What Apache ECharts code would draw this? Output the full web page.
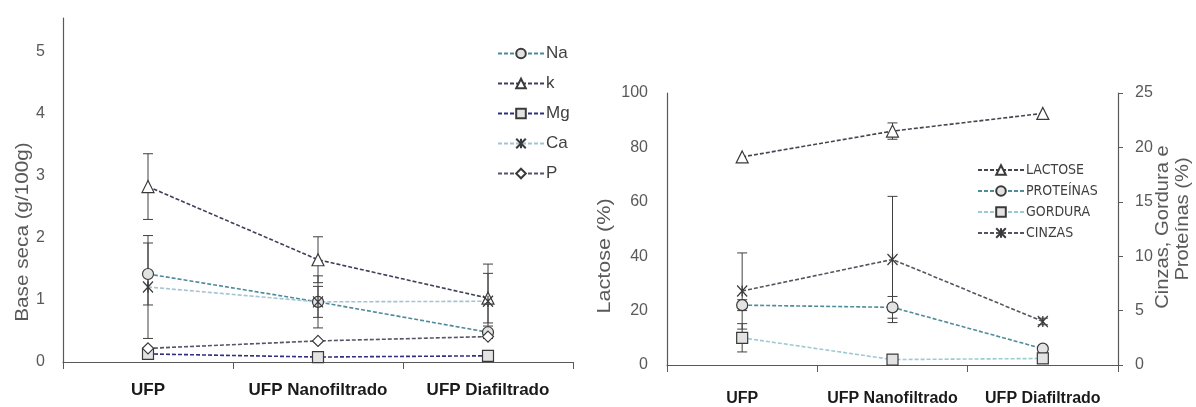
<!DOCTYPE html>
<html>
<head>
<meta charset="utf-8">
<script src="https://cdn.jsdelivr.net/npm/echarts@6/dist/echarts.min.js"></script>
<style>
html,body{margin:0;padding:0;background:#fff;}
#echartsDiv{width:1196px;height:407px;}
</style>
</head>
<body>
<div id="echartsDiv"></div>
<script>
// categorias (comuns aos dois gráficos)
var categorias=['UFP','UFP Nanofiltrado','UFP Diafiltrado'];

// gráfico da esquerda: minerais, base seca (g/100g)
var na=[1.42,0.97,0.48];
var naErr=[0.5,0.25,0.1];
var k=[2.83,1.65,1.03];
var kErr=[0.53,0.37,0.4];
var mg=[0.13,0.08,0.1];
var mgErr=[0,0,0];
var ca=[1.21,0.97,0.98];
var caErr=[0.83,0.42,0.6];
var p=[0.22,0.34,0.41];
var pErr=[0,0,0];
var ticksEsq=[0,1,2,3,4,5];

// gráfico da direita: lactose (eixo esq.) e cinzas/gordura/proteínas (eixo dir.)
var lactose=[76.5,86,92.5];
var lactoseErr=[0,3,0];
var proteinas=[5.5,5.3,1.5];
var proteinasErr=[0.5,1.0,0.2];
var gordura=[2.5,0.5,0.6];
var gorduraErr=[1.3,0.2,0.2];
var cinzas=[6.8,9.7,4.0];
var cinzasErr=[3.5,5.8,0.3];
var ticksLactose=[0,20,40,60,80,100];
var ticksCinzas=[0,5,10,15,20,25];

var cinzaEixo='#595959';
var contorno='#3a3a3a';
var asterisco='path://M0,0L10,10M10,0L0,10M5,0L5,10';

//monta os dados das barras de erro [indice, baixo, alto]
function barrasErro(vals,errs){
	var out=[];
	for(var i=0;i<vals.length;i++){
		if(errs[i]>0){
			out.push([i,vals[i]-errs[i],vals[i]+errs[i]]);
		}
	}
	return out;
}

function desenhaErro(params,api){
	var a=api.coord([api.value(0),api.value(1)]);
	var b=api.coord([api.value(0),api.value(2)]);
	var w=5;
	var st={stroke:'#404040',lineWidth:1};
	return {type:'group',children:[
		{type:'line',shape:{x1:a[0],y1:a[1],x2:b[0],y2:b[1]},style:st},
		{type:'line',shape:{x1:a[0]-w,y1:a[1],x2:a[0]+w,y2:a[1]},style:st},
		{type:'line',shape:{x1:b[0]-w,y1:b[1],x2:b[0]+w,y2:b[1]},style:st}
	]};
}

function serieErro(nome,vals,errs,xi,yi){
	return {
		name:nome,
		type:'custom',
		xAxisIndex:xi,
		yAxisIndex:yi,
		renderItem:desenhaErro,
		data:barrasErro(vals,errs),
		z:1,
		silent:true
	};
}

function serieLinha(nome,vals,cor,simbolo,preench,xi,yi){
	var ehAst=(simbolo===asterisco);
	return {
		name:nome,
		type:'line',
		xAxisIndex:xi,
		yAxisIndex:yi,
		data:vals,
		symbol:simbolo,
		symbolSize:ehAst?[10,11]:(simbolo==='triangle'?12:11),
		showAllSymbol:true,
		lineStyle:{color:cor,width:1.6,type:[4,2]},
		itemStyle:{color:ehAst?'rgba(0,0,0,0)':preench,borderColor:contorno,borderWidth:ehAst?1.3:1.2},
		z:3
	};
}

var myChart=echarts.init(document.getElementById('echartsDiv'));

var fonte="'Liberation Sans', Arial, sans-serif";
var fonteEstreita="'DejaVu Sans Condensed', 'Liberation Sans', Arial, sans-serif";

function eixoX(grade,tam,margem){
	return {
		gridIndex:grade,
		type:'category',
		data:categorias,
		boundaryGap:true,
		axisLine:{lineStyle:{color:cinzaEixo,width:1.2}},
		axisTick:{show:true,length:7,lineStyle:{color:cinzaEixo}},
		axisLabel:{interval:0,fontFamily:fonte,fontWeight:'bold',fontSize:tam,color:'#1a1a1a',margin:margem}
	};
}

var option={
	animation:false,
	backgroundColor:'#fff',
	grid:[
		{left:63,top:18,width:510,height:344},
		{left:667,top:93,width:451,height:272}
	],
	xAxis:[
		eixoX(0,17,20),
		eixoX(1,16,26)
	],
	yAxis:[
		{
			gridIndex:0,type:'value',min:0,max:5.55,interval:1,
			axisLine:{show:true,lineStyle:{color:cinzaEixo,width:1.2}},
			axisTick:{show:false},splitLine:{show:false},
			axisLabel:{fontFamily:fonte,fontSize:16,color:cinzaEixo,margin:18,
				formatter:function(v){return ticksEsq.indexOf(v)>=0?String(v):'';}}
		},
		{
			gridIndex:1,type:'value',min:0,max:100,interval:20,
			axisLine:{show:true,lineStyle:{color:cinzaEixo,width:1.2}},
			axisTick:{show:false},splitLine:{show:false},
			axisLabel:{fontFamily:fonte,fontSize:16,color:cinzaEixo,margin:19,
				formatter:function(v){return ticksLactose.indexOf(v)>=0?String(v):'';}}
		},
		{
			gridIndex:1,type:'value',position:'right',min:0,max:25,interval:5,
			axisLine:{show:true,lineStyle:{color:cinzaEixo,width:1.2}},
			axisTick:{show:true,length:5,lineStyle:{color:cinzaEixo}},splitLine:{show:false},
			axisLabel:{fontFamily:fonte,fontSize:16,color:cinzaEixo,margin:17,
				formatter:function(v){return ticksCinzas.indexOf(v)>=0?String(v):'';}}
		}
	],
	legend:[
		{
			data:['Na','k','Mg','Ca','P'],
			orient:'vertical',left:497,top:45,padding:0,
			itemWidth:46,itemHeight:12,itemGap:13,
			textStyle:{fontFamily:fonte,fontSize:17,color:'#404040',padding:[0,0,0,-3]}
		},
		{
			data:['LACTOSE','PROTEÍNAS','GORDURA','CINZAS'],
			orient:'vertical',left:977,top:163,padding:0,
			itemWidth:46,itemHeight:12,itemGap:7,
			textStyle:{fontFamily:fonteEstreita,fontSize:14,color:'#404040',padding:[0,0,0,-3]}
		}
	],
	graphic:[
		{type:'text',x:23,y:232,rotation:Math.PI/2,scaleX:1.15,
			style:{text:'Base seca (g/100g)',fill:cinzaEixo,font:'18px '+fonte,align:'center',verticalAlign:'middle'}},
		{type:'text',x:605,y:256,rotation:Math.PI/2,scaleX:1.2,
			style:{text:'Lactose (%)',fill:cinzaEixo,font:'18px '+fonte,align:'center',verticalAlign:'middle'}},
		{type:'text',x:1163,y:227,rotation:Math.PI/2,scaleX:1.12,
			style:{text:'Cinzas, Gordura e',fill:cinzaEixo,font:'18px '+fonte,align:'center',verticalAlign:'middle'}},
		{type:'text',x:1183,y:219,rotation:Math.PI/2,scaleX:1.12,
			style:{text:'Proteínas (%)',fill:cinzaEixo,font:'18px '+fonte,align:'center',verticalAlign:'middle'}}
	],
	series:[
		serieErro('errK',k,kErr,0,0),
		serieErro('errNa',na,naErr,0,0),
		serieErro('errCa',ca,caErr,0,0),
		serieErro('errMg',mg,mgErr,0,0),
		serieErro('errP',p,pErr,0,0),
		serieLinha('Na',na,'#4e8a9c','circle','#e3e3e3',0,0),
		serieLinha('k',k,'#3f3f5a','triangle','#ffffff',0,0),
		serieLinha('Mg',mg,'#2f2f7e','rect','#e3e3e3',0,0),
		serieLinha('Ca',ca,'#a3c4d2',asterisco,'#ffffff',0,0),
		serieLinha('P',p,'#55556a','diamond','#ffffff',0,0),

		serieErro('errLactose',lactose,lactoseErr,1,1),
		serieErro('errProteinas',proteinas,proteinasErr,1,2),
		serieErro('errGordura',gordura,gorduraErr,1,2),
		serieErro('errCinzas',cinzas,cinzasErr,1,2),
		serieLinha('LACTOSE',lactose,'#45454f','triangle','#ffffff',1,1),
		serieLinha('PROTEÍNAS',proteinas,'#4f8c99','circle','#e3e3e3',1,2),
		serieLinha('GORDURA',gordura,'#9ccbd3','rect','#e3e3e3',1,2),
		serieLinha('CINZAS',cinzas,'#55555f',asterisco,'#ffffff',1,2)
	]
};
myChart.setOption(option);
</script>
</body>
</html>
